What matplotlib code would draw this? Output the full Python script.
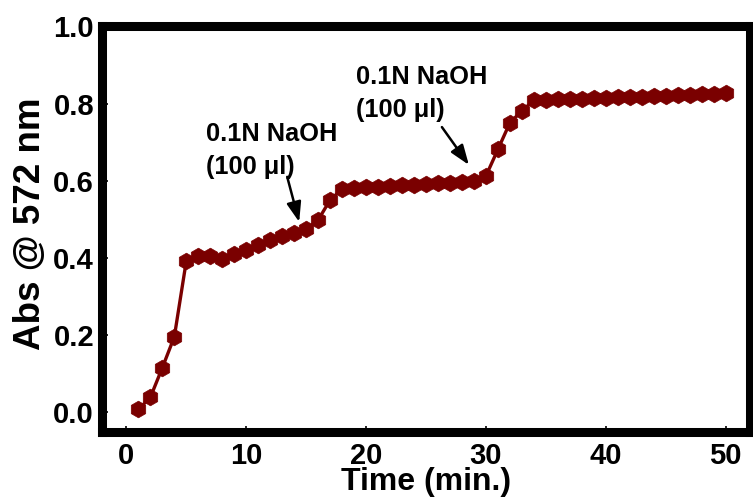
import matplotlib
matplotlib.use("Agg")
import matplotlib.pyplot as plt
from matplotlib.ticker import MultipleLocator

time_min = list(range(1, 51))
absorbance = [
    0.007, 0.038, 0.115, 0.195, 0.392, 0.405, 0.405, 0.397, 0.409, 0.420,
    0.433, 0.446, 0.457, 0.465, 0.474, 0.498, 0.550, 0.578, 0.581, 0.583,
    0.584, 0.586, 0.588, 0.589, 0.591, 0.593, 0.594, 0.596, 0.599, 0.612,
    0.681, 0.750, 0.781, 0.808, 0.810, 0.811, 0.812, 0.813, 0.814, 0.815,
    0.816, 0.817, 0.818, 0.819, 0.820, 0.822, 0.823, 0.825, 0.826, 0.828,
]
xticks = [0, 10, 20, 30, 40, 50]
yticks = [0.0, 0.2, 0.4, 0.6, 0.8, 1.0]
annot_text = "0.1N NaOH\n(100 \u03bcl)"
annot_points = [(14.42, 0.493), (28.58, 0.641)]
annot_tails = [(13.42, 0.610), (26.33, 0.739)]
annot_text_pos = [(6.67, 0.752), (19.17, 0.900)]

plt.rcParams['font.family'] = ['Liberation Sans', 'DejaVu Sans']
plt.rcParams['font.weight'] = 'bold'

fig = plt.figure(figsize=(7.53, 4.99), dpi=100)
ax = fig.add_axes([0.136, 0.134, 0.8594, 0.813])

color = '#7a0000'
ax.plot(time_min, absorbance, color=color, lw=2.4, marker='h', markersize=12,
        markerfacecolor=color, markeredgecolor=color, markeredgewidth=0.5)

for (tx, ty), (ax_, ay), (hx, hy) in zip(annot_text_pos, annot_tails, annot_points):
    ax.text(tx, ty, annot_text, fontsize=18.3, fontweight='bold', va='top', ha='left',
            linespacing=1.45)
    ax.annotate('', xy=(hx, hy), xytext=(ax_, ay),
                arrowprops=dict(arrowstyle='-|>,head_length=0.6,head_width=0.22',
                                color='black', lw=1.8,
                                mutation_scale=20, shrinkA=0, shrinkB=0))

ax.set_xlim(-2, 52)
ax.set_ylim(-0.052, 1.0)
ax.set_xticks(xticks)
ax.set_yticks(yticks)
ax.set_yticklabels([f"{v:.1f}" for v in yticks])
ax.xaxis.set_minor_locator(MultipleLocator(5))
ax.yaxis.set_minor_locator(MultipleLocator(0.1))
ax.tick_params(which='both', direction='in', width=1.2, labelsize=21)
ax.tick_params(axis='x', pad=7)
ax.tick_params(axis='y', pad=6)
ax.tick_params(which='major', length=4)
ax.tick_params(which='minor', length=3)
for lbl in ax.get_xticklabels() + ax.get_yticklabels():
    lbl.set_fontweight('bold')
for s in ax.spines.values():
    s.set_linewidth(6.5)

ax.set_xlabel('Time (min.)', fontsize=23, fontweight='bold', labelpad=-2)
ax.set_ylabel('Abs @ 572 nm', fontsize=26.5, fontweight='bold')
ax.yaxis.set_label_coords(-0.084, 0.514)

fig.savefig('out.png', dpi=100)
